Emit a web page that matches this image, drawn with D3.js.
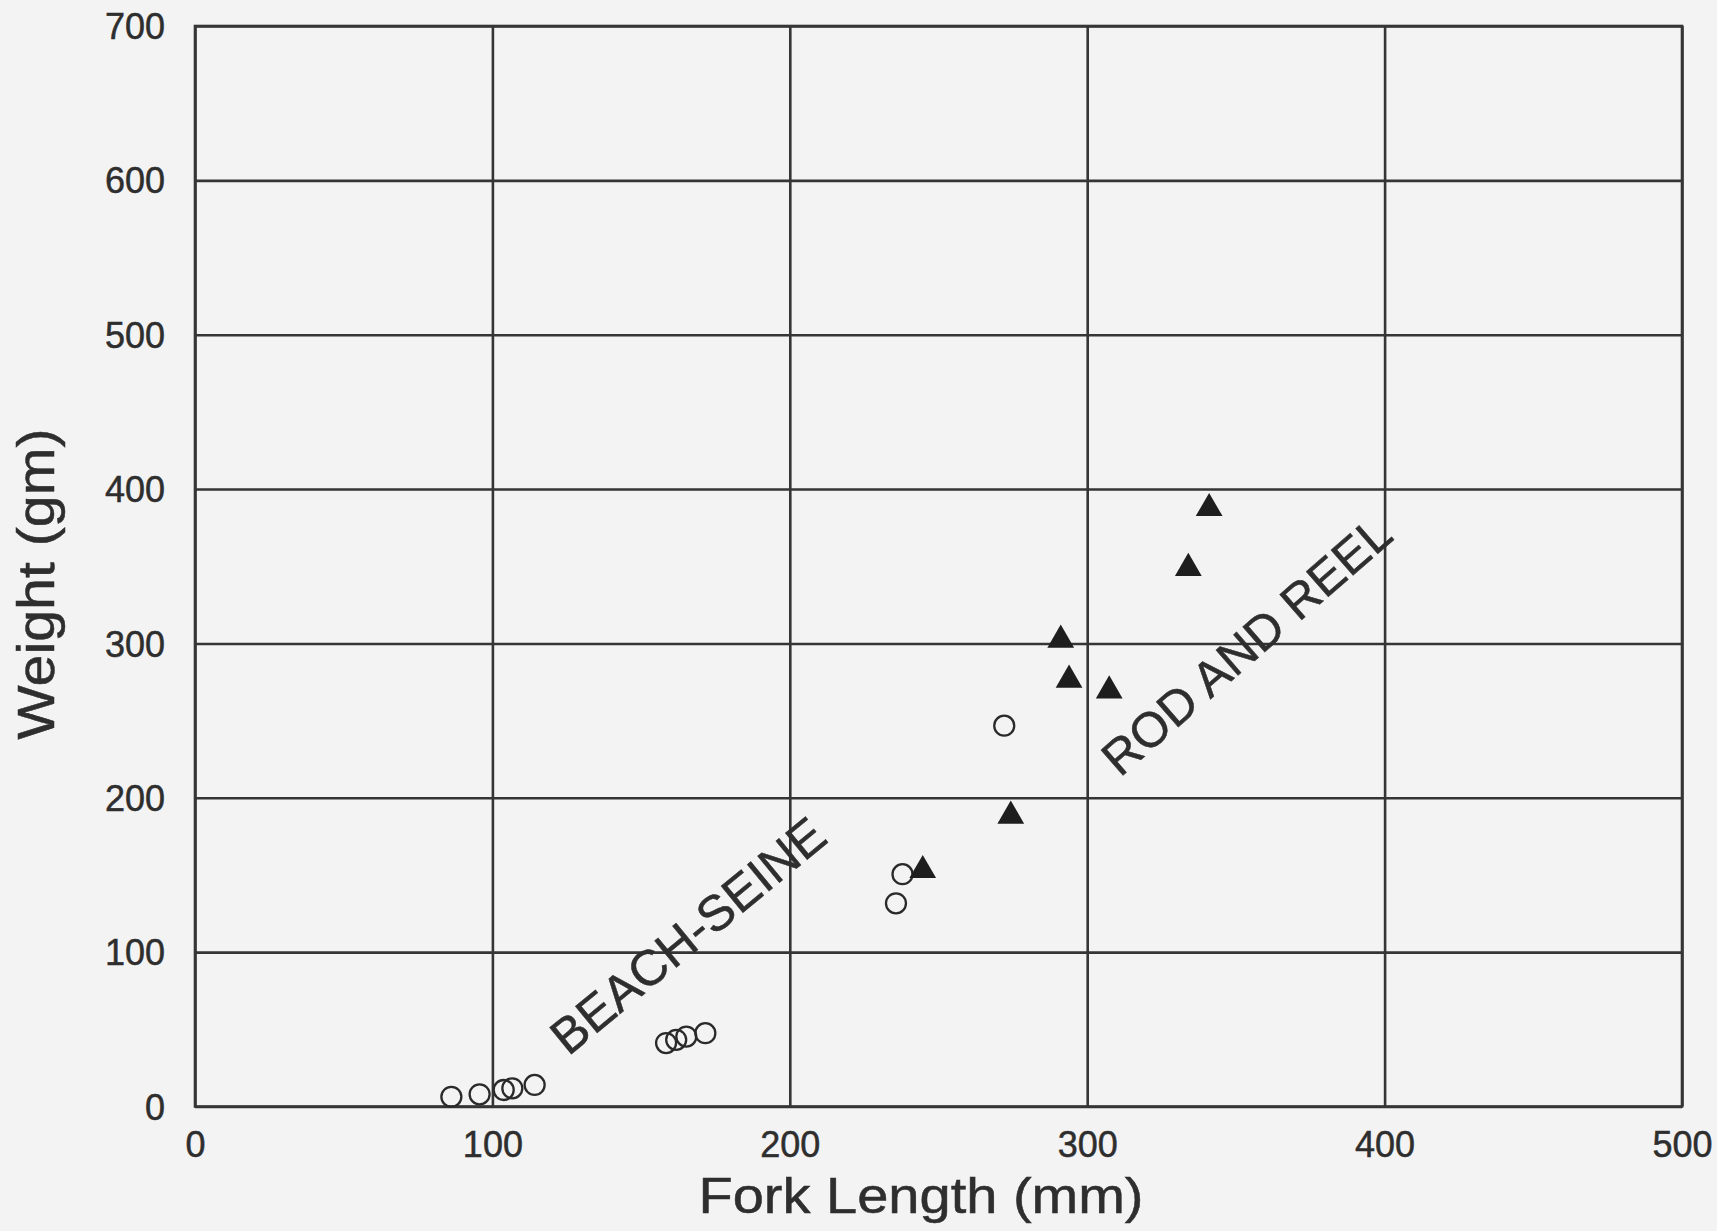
<!DOCTYPE html>
<html>
<head>
<meta charset="utf-8">
<script src="https://cdn.jsdelivr.net/npm/d3@7"></script>
<style>
  html, body { margin: 0; padding: 0; background: #f3f3f3; }
  svg { display: block; }
  text { font-family: "Liberation Sans", Arial, Helvetica, sans-serif; fill: #2e2e2e; stroke: #2e2e2e; stroke-width: 0.5px; }
</style>
</head>
<body>
<script>
// Data (Fork Length mm, Weight gm)
const beachSeineLength = [86.2, 95.7, 103.8, 106.7, 114.2, 158.4, 161.8, 165.2, 171.6, 235.7, 237.9, 272.1];
const beachSeineWeight = [6.3, 7.9, 10.7, 11.8, 14.0, 41.1, 43.2, 45.3, 47.5, 131.6, 150.5, 246.7];
const rodReelLength = [244.7, 274.3, 291.1, 293.9, 307.4, 334.0, 341.0];
const rodReelWeight = [153.0, 188.2, 302.2, 276.3, 269.4, 348.7, 387.5];
const xTicks = [0, 100, 200, 300, 400, 500];
const yTicks = [0, 100, 200, 300, 400, 500, 600, 700];
const xTitle = "Fork Length (mm)";
const yTitle = "Weight (gm)";
const seriesLabels = ["BEACH-SEINE", "ROD AND REEL"];

(function () {
const W = 1717, H = 1231;
const mLeft = 195, mRight = 1682, mTop = 26, mBottom = 1106.5;

const svg = d3.select("body").append("svg").attr("width", W).attr("height", H);
svg.append("rect").attr("width", W).attr("height", H).attr("fill", "#f3f3f3");

const x = d3.scaleLinear().domain([0, 500]).range([mLeft, mRight]);
const y = d3.scaleLinear().domain([0, 700]).range([mBottom, mTop]);

const lineColor = "#353535";

// Grid lines
const gx = svg.append("g").attr("transform", `translate(0,${mBottom})`)
  .call(d3.axisBottom(x).tickValues(xTicks).tickSize(-(mBottom - mTop)).tickFormat(""));
gx.select(".domain").remove();
gx.selectAll("line").attr("stroke", lineColor).attr("stroke-width", 2.6);

const gy = svg.append("g").attr("transform", `translate(${mLeft},0)`)
  .call(d3.axisLeft(y).tickValues(yTicks).tickSize(-(mRight - mLeft)).tickFormat(""));
gy.select(".domain").remove();
gy.selectAll("line").attr("stroke", lineColor).attr("stroke-width", 2.6);

// Frame
svg.append("rect").attr("x", mLeft).attr("y", mTop)
  .attr("width", mRight - mLeft).attr("height", mBottom - mTop)
  .attr("fill", "none").attr("stroke", lineColor).attr("stroke-width", 2.6);

// Tick labels
const xl = svg.append("g").attr("transform", `translate(0,${mBottom})`)
  .call(d3.axisBottom(x).tickValues(xTicks).tickSize(0).tickFormat(d3.format("d")));
xl.select(".domain").remove();
xl.selectAll("text").attr("y", 38).attr("dy", "0.35em")
  .style("font-size", "36px").style("font-family", "Liberation Sans, Arial, sans-serif").attr("fill", "#2e2e2e");

const yl = svg.append("g").attr("transform", `translate(${mLeft},0)`)
  .call(d3.axisLeft(y).tickValues(yTicks).tickSize(0).tickFormat(d3.format("d")));
yl.select(".domain").remove();
yl.selectAll("text").attr("x", -30).attr("dy", "0.35em")
  .style("font-size", "36px").style("font-family", "Liberation Sans, Arial, sans-serif").attr("fill", "#2e2e2e");

// Axis titles
svg.append("text").attr("x", 921).attr("y", 1213).attr("text-anchor", "middle")
  .attr("textLength", 445).attr("lengthAdjust", "spacingAndGlyphs")
  .style("font-size", "50px").text(xTitle);
svg.append("text").attr("transform", "translate(54,584) rotate(-90)").attr("text-anchor", "middle")
  .attr("textLength", 311).attr("lengthAdjust", "spacingAndGlyphs")
  .style("font-size", "51px").text(yTitle);

// Beach seine: open circles
const bs = beachSeineLength.map((d, i) => ({ x: d, y: beachSeineWeight[i] }));
svg.append("g").selectAll("circle").data(bs).join("circle")
  .attr("cx", d => x(d.x)).attr("cy", d => y(d.y)).attr("r", 10)
  .attr("fill", "none").attr("stroke", "#2a2a2a").attr("stroke-width", 2.3);

// Rod and reel: filled triangles
const rr = rodReelLength.map((d, i) => ({ x: d, y: rodReelWeight[i] }));
const tri = d3.symbol().type(d3.symbolTriangle).size(310);
svg.append("g").selectAll("path").data(rr).join("path")
  .attr("d", tri).attr("transform", d => `translate(${x(d.x)},${y(d.y)})`)
  .attr("fill", "#1e1e1e");

// In-plot series labels
svg.append("text").attr("transform", "translate(687.5,935) rotate(-39.5)")
  .attr("text-anchor", "middle").attr("dy", "0.36em").style("font-size", "50px").text(seriesLabels[0]);
svg.append("text").attr("transform", "translate(1246,645) rotate(-41)")
  .attr("text-anchor", "middle").attr("dy", "0.36em").style("font-size", "49px").text(seriesLabels[1]);
})();
</script>
</body>
</html>
